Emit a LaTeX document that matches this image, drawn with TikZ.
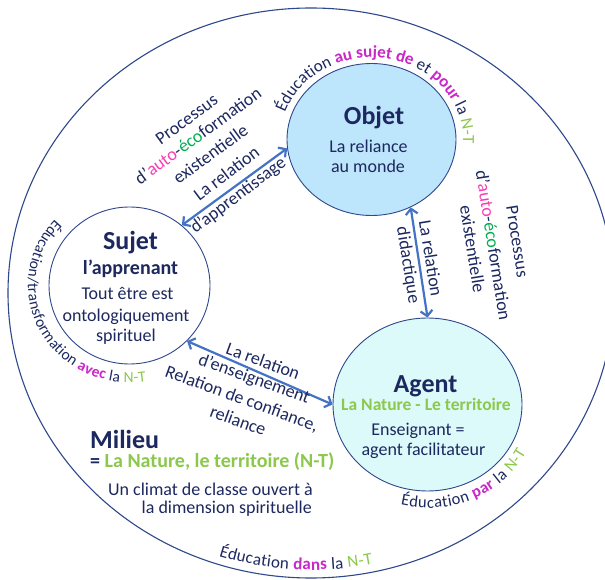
\documentclass[tikz,border=0pt]{standalone}
\usepackage{fontspec}
\setmainfont{Carlito}
\usetikzlibrary{shapes.geometric,arrows.meta,decorations.text}
\definecolor{navyt}{RGB}{28,40,95}
\definecolor{magt}{RGB}{200,40,200}
\definecolor{pinkt}{RGB}{250,60,180}
\definecolor{ecot}{RGB}{0,176,80}
\definecolor{limet}{RGB}{140,200,75}
\definecolor{linec}{RGB}{47,72,140}
\definecolor{arrowc}{RGB}{68,114,196}
\definecolor{objfill}{RGB}{189,229,251}
\definecolor{agtfill}{RGB}{220,250,250}
\newcommand\fs[1]{\fontsize{#1}{#1}\selectfont}
\newcommand\cN[1]{\fontsize{#1}{#1}\selectfont\mdseries\color{navyt}}
\newcommand\cM[1]{\fontsize{#1}{#1}\selectfont\bfseries\color{magt}}
\newcommand\cG[1]{\fontsize{#1}{#1}\selectfont\mdseries\color{limet}}
\tikzset{
  circ/.style={ellipse, draw=linec, line width=0.9pt, inner sep=0pt},
  rel/.style={draw=arrowc, line width=2.2pt, {Straight Barb[length=5.5pt,width=12pt]}-{Straight Barb[length=5.5pt,width=12pt]}},
  head/.style={font=\fs{26}\bfseries, text=navyt, inner sep=0pt, anchor=base},
  body/.style={font=\fs{18}, text=navyt, inner sep=0pt, anchor=base},
  greenb/.style={font=\fs{17.5}\bfseries, text=limet, inner sep=0pt, anchor=base},
}
\begin{document}
\begin{tikzpicture}[x=1pt,y=1pt]
\useasboundingbox (0,0) rectangle (605,579);
\clip (0,0) rectangle (605,579);
\fill[white] (0,0) rectangle (605,579);
% shapes
\node[circ, line width=1.1pt, minimum width=606pt, minimum height=570pt] (outer) at (311,286) {};
\node[circ, fill=objfill, minimum width=169pt, minimum height=152pt] (objet) at (371.5,439.5) {};
\node[circ, fill=white, minimum width=161pt, minimum height=157pt] (sujet) at (129.5,293.5) {};
\node[circ, fill=agtfill, minimum width=189pt, minimum height=173pt] (agent) at (427.5,174.5) {};
% relations
\draw[rel] (sujet.49) -- (objet.186);
\draw[rel] (objet.-60) -- (agent.90);
\draw[rel] (sujet.-44) -- (agent.180);
% Objet
\node[head] (objT) at (374,454) {Objet};
\node[body] (objL1) at (368.5,426) {La reliance};
\node[body] (objL2) at (368,406) {au monde};
% Sujet
\node[head] (sujT) at (130.5,329) {Sujet};
\node[body, font=\fs{20}\bfseries] (sujL1) at (130.5,304) {l’apprenant};
\node[body] (sujL2) at (127.5,279) {Tout être est};
\node[body] (sujL3) at (126,258) {ontologiquement};
\node[body] (sujL4) at (126,237) {spirituel};
% Agent
\node[head] (agtT) at (425.5,187) {Agent};
\node[greenb] (agtL1) at (426,169) {La Nature - Le territoire};
\node[body] (agtL2) at (418,144) {Enseignant =};
\node[body] (agtL3) at (423.5,124) {agent facilitateur};
% Milieu
\node[head, anchor=base west] (mil) at (90,131) {Milieu};
\node[greenb, font=\fs{20}\bfseries, anchor=base west] (milL1) at (90,112) {\textcolor{navyt}{=} La Nature, le territoire (N-T)};
\node[body, anchor=base east] (milL2) at (313,84) {Un climat de classe ouvert à};
\node[body, anchor=base east] (milL3) at (312,66) {la dimension spirituelle};
% left process
\node[body, rotate=36] (pl1) at (190,455) {Processus};
\node[body, rotate=36] (pl2) at (201.5,438.5) {d’\textcolor{pinkt}{auto}-\textcolor{ecot}{éco}formation};
\node[body, rotate=36] (pl3) at (214,420) {existentielle};
% relation d'apprentissage
\node[body, rotate=37] (ra1) at (230,400.7) {La relation};
\node[body, rotate=37] (ra2) at (241.3,379.6) {d’apprentissage};
% relation didactique
\node[body, rotate=-81] (rd1) at (425,320) {La relation};
\node[body, rotate=-81] (rd2) at (403,313) {didactique};
% right process
\node[body, rotate=-81] (pr1) at (511.7,336.5) {Processus};
\node[body, rotate=-81] (pr2) at (487.5,333) {d’\textcolor{pinkt}{auto}-\textcolor{ecot}{éco}formation};
\node[body, rotate=-81] (pr3) at (466.7,329) {existentielle};
% relation d'enseignement
\node[body, rotate=-20] (re1) at (261,212) {La relation};
\node[body, rotate=-20] (re2) at (252.3,195) {d’enseignement};
\node[body, rotate=-20] (re3) at (240,175) {Relation de confiance,};
\node[body, rotate=-20] (re4) at (236,153) {reliance};
% curved texts
\path[decorate, decoration={text along path, text align={fit to path},
  text={|\cN{17}|Éducation |\cM{17}|au sujet de|\cN{17}| et |\cM{17}|pour|\cN{17}| la |\cG{17}|N-T}}]
  ([shift={(161:91.5pt and 82pt)}]objet.center) arc[start angle=161, end angle=-3, x radius=91.5pt, y radius=82pt];
\path[decorate, decoration={text along path, text align={fit to path},
  text={|\cN{15.5}|Éducation/transformation |\cM{15.5}|avec|\cN{15.5}| la |\cG{15.5}|N-T}}]
  ([shift={(137:101.5pt and 97pt)}]sujet.center) arc[start angle=137, end angle=279.5, x radius=101.5pt, y radius=97pt];
\path[decorate, decoration={text along path, text align={fit to path},
  text={|\cN{16.5}|Éducation |\cM{16.5}|par|\cN{16.5}| la |\cG{16.5}|N-T}}]
  ([shift={(-104:111.5pt and 103.5pt)}]agent.center) arc[start angle=-104, end angle=-28, x radius=111.5pt, y radius=103.5pt];
\path[decorate, decoration={text along path, text align={fit to path},
  text={|\cN{17}|Éducation |\cM{17}|dans|\cN{17}| la |\cG{17}|N-T}}]
  ([shift={(251.8:295pt and 277pt)}]outer.center) arc[start angle=251.8, end angle=282.1, x radius=295pt, y radius=277pt];
\end{tikzpicture}
\end{document}
